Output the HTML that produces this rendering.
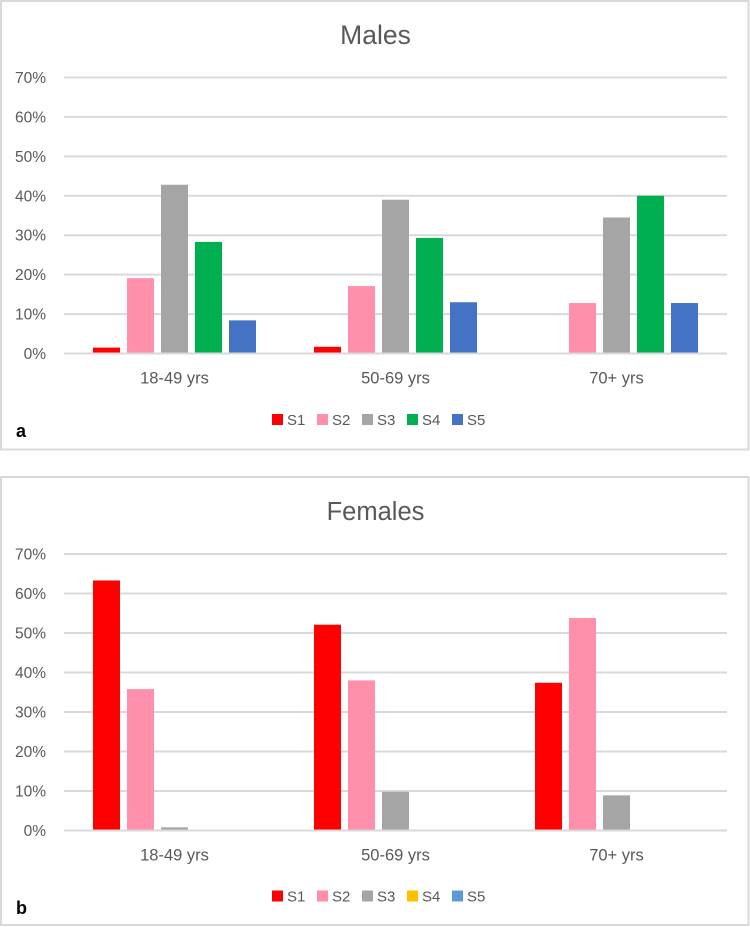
<!DOCTYPE html>
<html lang="en">
<head>
<meta charset="utf-8">
<title>Males and Females charts</title>
<style>
html,body{margin:0;padding:0;background:#fff;}
svg{display:block;font-family:"Liberation Sans",sans-serif;}
</style>
</head>
<body>
<svg id="chart" xmlns="http://www.w3.org/2000/svg" width="750" height="927" viewBox="0 0 750 927"></svg>
<script>
const categories = ["18-49 yrs", "50-69 yrs", "70+ yrs"];
const seriesNames = ["S1", "S2", "S3", "S4", "S5"];
const yTicks = [0, 10, 20, 30, 40, 50, 60, 70];
const malesS1 = [1.5, 1.7, 0];
const malesS2 = [19.1, 17.1, 12.8];
const malesS3 = [42.8, 39.0, 34.5];
const malesS4 = [28.3, 29.3, 40.0];
const malesS5 = [8.4, 13.0, 12.8];
const femalesS1 = [63.3, 52.1, 37.4];
const femalesS2 = [35.8, 38.0, 53.8];
const femalesS3 = [0.8, 9.8, 8.9];
const femalesS4 = [0, 0, 0];
const femalesS5 = [0, 0, 0];
const malesColors = ["#ff0000", "#ff8fab", "#a5a5a5", "#00b050", "#4472c4"];
const femalesColors = ["#ff0000", "#ff8fab", "#a5a5a5", "#ffc000", "#5b9bd5"];

const NS = "http://www.w3.org/2000/svg";
const root = document.getElementById("chart");

function make(parent, tag, attrs, content) {
  const el = document.createElementNS(NS, tag);
  for (const k in attrs) el.setAttribute(k, attrs[k]);
  if (content !== undefined) el.textContent = content;
  parent.appendChild(el);
  return el;
}

function drawPanel(cfg) {
  const g = make(root, "g", {});
  
  

  const frame = make(g, "rect", {x: 1, y: cfg.top, width: 747.5, height: cfg.height, fill: "#fff", stroke: "#d9d9d9", "stroke-width": 2});
  
  

  const plotLeft = 64, plotRight = 727;
  const yScale = v => cfg.y0 - (v / 70) * (cfg.y0 - cfg.y70);
  const bandWidth = (plotRight - plotLeft) / categories.length;
  const xCenter = i => plotLeft + bandWidth * (i + 0.5);
  const barW = 27, barStep = 34;

  const title = make(g, "text", {x: 375.5, y: cfg.titleY, "text-anchor": "middle", "font-size": cfg.titleSize, fill: "#595959"}, cfg.title);
  
  

  yTicks.forEach(t => {
    const line = make(g, "line", {x1: plotLeft, x2: plotRight, y1: yScale(t), y2: yScale(t), stroke: "#d9d9d9", "stroke-width": 2});
    
    
    const lab = make(g, "text", {x: 46, y: yScale(t) + 5.5, "text-anchor": "end", "font-size": 15.5, fill: "#595959"}, t + "%");
    
    
  });

  cfg.series.forEach((values, s) => {
    values.forEach((v, i) => {
      if (v <= 0) return;
      const x = xCenter(i) + (s - 2) * barStep - barW / 2;
      const bar = make(g, "rect", {x: x, y: yScale(v), width: barW, height: yScale(0) - yScale(v) - 1, fill: cfg.colors[s]});
      
      
    });
  });

  categories.forEach((c, i) => {
    const lab = make(g, "text", {x: xCenter(i), y: cfg.y0 + 30, "text-anchor": "middle", "font-size": 16.5, fill: "#595959"}, c);
    
    
  });

  seriesNames.forEach((n, s) => {
    const lx = 272 + s * 45;
    const entry = make(g, "g", {});
    
    
    make(entry, "rect", {x: lx, y: cfg.legendY - 5.5, width: 11, height: 11, fill: cfg.colors[s]});
    make(entry, "text", {x: lx + 15, y: cfg.legendY + 5.5, "font-size": 15, fill: "#595959"}, n);
  });

  const tag = make(g, "text", {x: 16, y: cfg.tagY, "font-size": 18, "font-weight": "bold", fill: "#000"}, cfg.tag);
  
  
}

drawPanel({
  key: "males", title: "Males", tag: "a", titleSize: 26.5,
  top: 1, height: 448.5, y70: 77.5, y0: 353.5, titleY: 44, legendY: 419.5, tagY: 437,
  series: [malesS1, malesS2, malesS3, malesS4, malesS5],
  colors: malesColors
});
drawPanel({
  key: "females", title: "Females", tag: "b", titleSize: 25.5,
  top: 477, height: 448, y70: 554, y0: 830.5, titleY: 520, legendY: 896, tagY: 914,
  series: [femalesS1, femalesS2, femalesS3, femalesS4, femalesS5],
  colors: femalesColors
});
</script>
</body>
</html>
